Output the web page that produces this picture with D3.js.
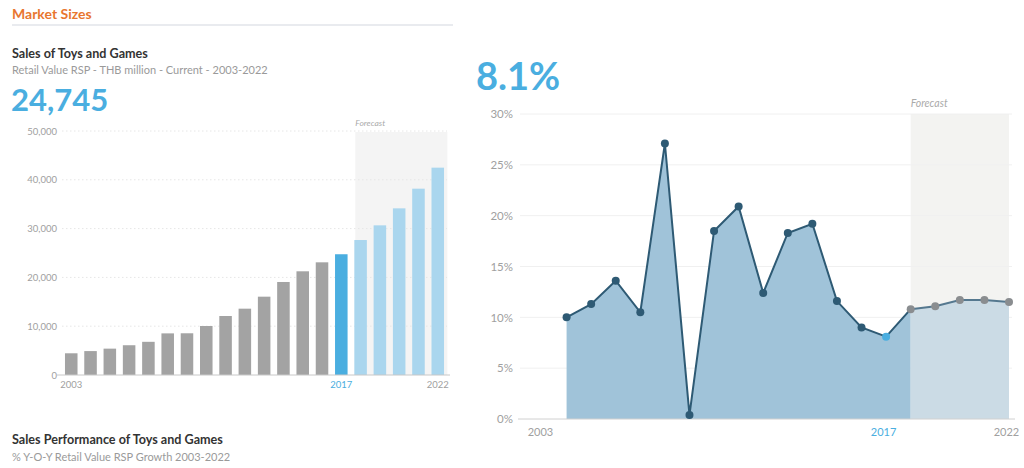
<!DOCTYPE html>
<html>
<head>
<meta charset="utf-8">
<script src="https://cdn.jsdelivr.net/npm/d3@7"></script>
<style>
  html, body { margin: 0; padding: 0; background: #fff; }
  svg { display: block; font-family: Lato, "Open Sans", sans-serif; }
</style>
</head>
<body>
<svg id="chart" width="1024" height="468"></svg>
<script>
// Retail value of toys and games, THB million (2018-2022 forecast)
const years = d3.range(2003, 2023);
const salesValues = [4450, 4900, 5400, 6100, 6800, 8530, 8550, 10040, 12090, 13590,
                     16050, 19060, 21250, 23090, 24745, 27660, 30670, 34150, 38180, 42490];
// Year-on-year growth, %, 2004-2022
const growthYears = d3.range(2004, 2023);
const growthValues = [10.0, 11.3, 13.6, 10.5, 27.1, 0.4, 18.5, 20.9, 12.4, 18.3,
                      19.2, 11.6, 9.0, 8.1, 10.8, 11.1, 11.7, 11.7, 11.5];
const salesTicks = [0, 10000, 20000, 30000, 40000, 50000];
const growthTicks = [0, 5, 10, 15, 20, 25, 30];
const yearLabels = [2003, 2017, 2022];
const currentYear = 2017;
const forecastStart = 2018;

const svg = d3.select("#chart");
const blue = "#4aaee0";

// ---- headings ----
svg.append("text").attr("x", 12).attr("y", 19)
  .attr("font-size", 14).attr("font-weight", 700).attr("fill", "#e8762f")
  .text("Market Sizes");
svg.append("line").attr("x1", 12).attr("x2", 453).attr("y1", 25).attr("y2", 25)
  .attr("stroke", "#e2e5ea").attr("stroke-width", 1.5);
svg.append("text").attr("x", 12).attr("y", 58)
  .attr("font-size", 12.6).attr("font-weight", 700).attr("fill", "#333")
  .text("Sales of Toys and Games");
svg.append("text").attr("x", 12).attr("y", 74)
  .attr("font-size", 11).attr("fill", "#9a9a9a")
  .text("Retail Value RSP - THB million - Current - 2003-2022");
svg.append("text").attr("x", 11).attr("y", 111)
  .attr("font-size", 31).attr("font-weight", 700).attr("fill", blue)
  .text(d3.format(",")(salesValues[years.indexOf(currentYear)]));
svg.append("text").attr("x", 12).attr("y", 444)
  .attr("font-size", 12.6).attr("font-weight", 700).attr("fill", "#333")
  .text("Sales Performance of Toys and Games");
svg.append("text").attr("x", 12).attr("y", 461)
  .attr("font-size", 11).attr("fill", "#9a9a9a")
  .text("% Y-O-Y Retail Value RSP Growth 2003-2022");
svg.append("text").attr("x", 476).attr("y", 90)
  .attr("font-size", 38).attr("font-weight", 700).attr("fill", blue)
  .text(growthValues[growthYears.indexOf(currentYear)].toFixed(1) + "%");

// ---- left: bar chart of sales ----
const xb = d3.scaleBand().domain(years).range([61.6, 447.4])
  .paddingInner(0.35).paddingOuter(0.175);
const yb = d3.scaleLinear().domain([0, 50000]).range([375, 131]);

const left = svg.append("g");
left.append("rect")
  .attr("x", xb(forecastStart) + 1).attr("y", yb(50000) + 1)
  .attr("width", xb.range()[1] - xb(forecastStart) - 1)
  .attr("height", yb(0) - yb(50000) - 1)
  .attr("fill", "#f4f4f4");
left.append("text").attr("x", xb(forecastStart) + 1).attr("y", 126)
  .attr("font-size", 8.5).attr("font-style", "italic").attr("fill", "#aaa")
  .text("Forecast");

left.append("g").selectAll("line").data(salesTicks.slice(1)).join("line")
  .attr("x1", 62).attr("x2", 447)
  .attr("y1", d => yb(d)).attr("y2", d => yb(d))
  .attr("stroke", "#e6e6e6").attr("stroke-dasharray", "1.5,2.5");

left.append("g").selectAll("rect").data(years).join("rect")
  .attr("x", d => xb(d)).attr("width", xb.bandwidth())
  .attr("y", (d, i) => yb(salesValues[i]))
  .attr("height", (d, i) => yb(0) - yb(salesValues[i]))
  .attr("fill", d => d < currentYear ? "#a3a3a3" : d === currentYear ? blue : "#aad6ee");

const ybAxis = left.append("g").attr("transform", "translate(57,0)")
  .call(d3.axisLeft(yb).tickValues(salesTicks).tickSize(0).tickPadding(0)
    .tickFormat(d3.format(",")));
ybAxis.select(".domain").remove();
ybAxis.selectAll("text").attr("font-size", 9.5).attr("fill", "#a0a0a0")
  .attr("font-family", "Lato, sans-serif");

left.append("line").attr("x1", 57).attr("x2", 450)
  .attr("y1", yb(0)).attr("y2", yb(0)).attr("stroke", "#c8c8c8");

const xbAxis = left.append("g").attr("transform", `translate(0,${yb(0)})`)
  .call(d3.axisBottom(xb).tickValues(yearLabels).tickSize(0).tickPadding(6));
xbAxis.select(".domain").remove();
xbAxis.selectAll("text").attr("font-size", 9.5)
  .attr("font-family", "Lato, sans-serif")
  .attr("fill", d => d === currentYear ? blue : "#a0a0a0");

// ---- right: growth area chart ----
const xg = d3.scaleLinear().domain([2003, 2022]).range([542, 1009]);
const yg = d3.scaleLinear().domain([0, 30]).range([419, 114]);
const right = svg.append("g");

right.append("rect")
  .attr("x", xg(forecastStart)).attr("y", yg(30))
  .attr("width", xg(2022) - xg(forecastStart)).attr("height", yg(0) - yg(30))
  .attr("fill", "#f3f3f1");
right.append("text").attr("x", xg(forecastStart)).attr("y", 107)
  .attr("font-size", 10.5).attr("font-style", "italic").attr("fill", "#aaa")
  .text("Forecast");

right.append("g").selectAll("line").data(growthTicks.slice(1)).join("line")
  .attr("x1", 520).attr("x2", 1012)
  .attr("y1", d => yg(d)).attr("y2", d => yg(d))
  .attr("stroke", "#f0f0f0");

const pts = growthYears.map((y, i) => ({ year: y, v: growthValues[i] }));
const area = d3.area().x(d => xg(d.year)).y0(yg(0)).y1(d => yg(d.v));
const line = d3.line().x(d => xg(d.year)).y(d => yg(d.v));

right.append("path").datum(pts.filter(d => d.year <= forecastStart))
  .attr("d", area).attr("fill", "#a0c3d9");
right.append("path").datum(pts.filter(d => d.year >= forecastStart))
  .attr("d", area).attr("fill", "#cbdbe5");

right.append("line").attr("x1", 518).attr("x2", 1015)
  .attr("y1", yg(0)).attr("y2", yg(0)).attr("stroke", "#d0d0d0");

right.append("path").datum(pts.filter(d => d.year <= forecastStart))
  .attr("d", line).attr("fill", "none").attr("stroke", "#2e5a74").attr("stroke-width", 2);
right.append("path").datum(pts.filter(d => d.year >= forecastStart))
  .attr("d", line).attr("fill", "none").attr("stroke", "#55788f").attr("stroke-width", 2);

right.append("g").selectAll("circle").data(pts).join("circle")
  .attr("cx", d => xg(d.year)).attr("cy", d => yg(d.v)).attr("r", 4)
  .attr("fill", d => d.year < currentYear ? "#2e5a74" : d.year === currentYear ? blue : "#8a8d90");

const ygAxis = right.append("g").attr("transform", "translate(513,0)")
  .call(d3.axisLeft(yg).tickValues(growthTicks).tickSize(0).tickPadding(0)
    .tickFormat(d => d + "%"));
ygAxis.select(".domain").remove();
ygAxis.selectAll("text").attr("font-size", 11.5).attr("fill", "#a0a0a0")
  .attr("font-family", "Lato, sans-serif");

const xgAxis = right.append("g").attr("transform", `translate(0,${yg(0)})`)
  .call(d3.axisBottom(xg).tickValues(yearLabels).tickSize(0).tickPadding(9)
    .tickFormat(d3.format("d")));
xgAxis.select(".domain").remove();
xgAxis.selectAll("text").attr("font-size", 11)
  .attr("font-family", "Lato, sans-serif")
  .attr("fill", d => d === currentYear ? blue : "#a0a0a0")
  .attr("dx", d => d === 2022 ? -3 : d === currentYear ? -3 : -2);
</script>
</body>
</html>
